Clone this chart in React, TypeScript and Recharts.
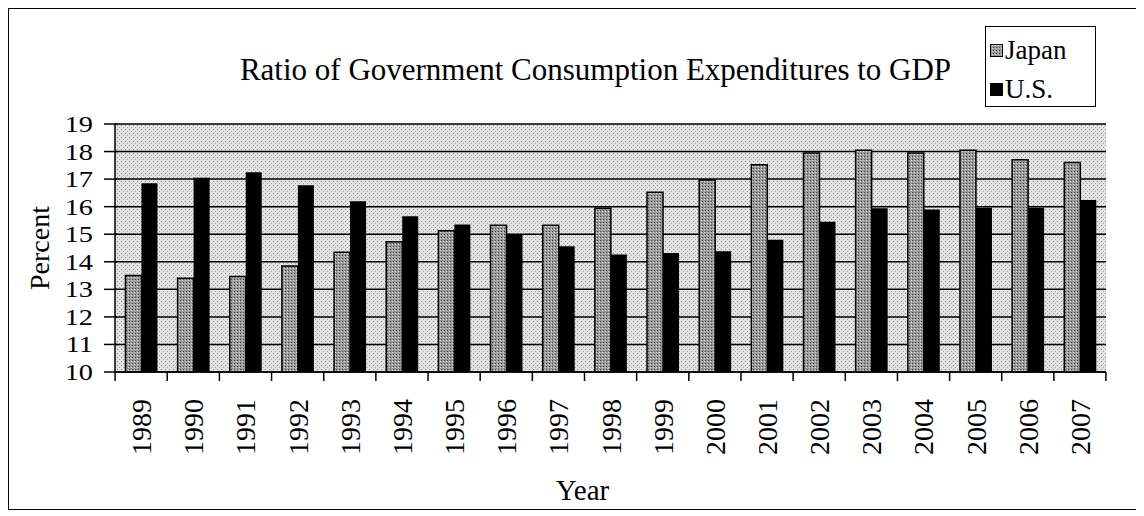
import React from "react";
import { BarChart, Bar, CartesianGrid, XAxis, YAxis } from "recharts";

const years = [
  "1989", "1990", "1991", "1992", "1993", "1994", "1995", "1996", "1997", "1998",
  "1999", "2000", "2001", "2002", "2003", "2004", "2005", "2006", "2007",
];
const japan = [
  13.5, 13.4, 13.47, 13.85, 14.35, 14.73, 15.13, 15.33, 15.33, 15.94,
  16.52, 16.97, 17.52, 17.95, 18.05, 17.95, 18.05, 17.7, 17.6,
];
const us = [
  16.85, 17.05, 17.25, 16.78, 16.2, 15.65, 15.35, 14.98, 14.56, 14.26,
  14.32, 14.38, 14.8, 15.45, 15.94, 15.9, 15.96, 15.96, 16.24,
];
const yTicks = [10, 11, 12, 13, 14, 15, 16, 17, 18, 19];

const data = years.map((year, i) => ({ year, japan: japan[i], us: us[i] }));

const FONT = "'Liberation Serif', 'Times New Roman', serif";
const HALF_BAND = 26;

// year labels read bottom-to-top, with tick marks between the categories
const YearTick = (props: any) => {
  const { x, y, payload, index } = props;
  return (
    <g>
      <line x1={x - HALF_BAND} y1={y} x2={x - HALF_BAND} y2={y + 9} stroke="#000" strokeWidth={1.5} />
      {index === years.length - 1 && (
        <line x1={x + HALF_BAND} y1={y} x2={x + HALF_BAND} y2={y + 9} stroke="#000" strokeWidth={1.5} />
      )}
      <text
        x={0}
        y={0}
        transform={`translate(${x + 10},${y + 27}) rotate(-90)`}
        textAnchor="end"
        fontFamily={FONT}
        fontSize={28}
        fill="#000"
      >
        {payload.value}
      </text>
    </g>
  );
};

// excel style "cross" ticks on the value axis
const PercentTick = (props: any) => {
  const { x, y, payload } = props;
  return (
    <g>
      <line x1={x - 11} y1={y} x2={x + 2} y2={y} stroke="#000" strokeWidth={1.5} />
      <text
        x={x - 22}
        y={y}
        dy={8}
        textAnchor="end"
        fontFamily={FONT}
        fontSize={24}
        fill="#000"
        transform={`translate(${-(x - 22) * 0.18},0) scale(1.18,1)`}
      >
        {payload.value}
      </text>
    </g>
  );
};

const LegendBox = () => (
  <div
    style={{
      position: "absolute",
      left: 976,
      top: 17,
      width: 111,
      height: 81,
      boxSizing: "border-box",
      border: "1.5px solid #000",
      background: "#fff",
      padding: "4px 0 0 4px",
      fontSize: 27,
      lineHeight: "39px",
      color: "#000",
    }}
  >
    <div style={{ display: "flex", alignItems: "center" }}>
      <svg width={13} height={13} style={{ marginRight: 2 }}>
        <rect x={0.5} y={0.5} width={12} height={12} fill="url(#japanFill)" stroke="#000" />
      </svg>
      Japan
    </div>
    <div style={{ display: "flex", alignItems: "center" }}>
      <svg width={13} height={13} style={{ marginRight: 2 }}>
        <rect x={0} y={0} width={13} height={13} fill="#000" />
      </svg>
      U.S.
    </div>
  </div>
);

export default function App() {
  return (
    <div
      style={{
        position: "relative",
        width: 1132,
        height: 502,
        border: "1.5px solid #000",
        boxSizing: "border-box",
        background: "#fff",
        fontFamily: FONT,
      }}
    >
      <div
        style={{
          position: "absolute",
          left: 0,
          width: 1173,
          top: 43,
          textAlign: "center",
          fontSize: 31,
          color: "#000",
          whiteSpace: "nowrap",
        }}
      >
        Ratio of Government Consumption Expenditures to GDP
      </div>
      <BarChart
        width={1129}
        height={499}
        data={data}
        margin={{ top: 115, right: 32, left: 6, bottom: 4 }}
        barCategoryGap="20%"
        barGap={0}
      >
        <defs>
          <pattern id="bgFill" width={4} height={4} patternUnits="userSpaceOnUse">
            <rect width={4} height={4} fill="#e2e2e2" />
            <rect x={0} y={0} width={1} height={1} fill="#8a8a8a" />
            <rect x={2} y={2} width={1} height={1} fill="#a8a8a8" />
          </pattern>
          <pattern id="japanFill" width={3} height={3} patternUnits="userSpaceOnUse">
            <rect width={3} height={3} fill="#9a9a9a" />
            <rect x={0} y={0} width={1} height={1} fill="#444" />
            <rect x={2} y={1} width={1} height={1} fill="#ddd" />
          </pattern>
        </defs>
        <CartesianGrid
          vertical={false}
          stroke="#000"
          strokeWidth={1.5}
          fill="url(#bgFill)"
          fillOpacity={1}
        />
        <XAxis
          dataKey="year"
          tick={<YearTick />}
          tickLine={false}
          tickSize={0}
          tickMargin={0}
          interval={0}
          height={132}
          axisLine={{ stroke: "#000", strokeWidth: 1.5 }}
          label={{
            value: "Year",
            position: "insideBottom",
            offset: 4,
            dx: -28,
            fill: "#000",
            fontSize: 29,
            fontFamily: FONT,
          }}
        />
        <YAxis
          domain={[10, 19]}
          ticks={yTicks}
          interval={0}
          width={100}
          axisLine={{ stroke: "#000", strokeWidth: 1.5 }}
          tickLine={false}
          tickSize={0}
          tickMargin={0}
          tick={<PercentTick />}
          label={{
            value: "Percent",
            angle: -90,
            position: "insideLeft",
            offset: 24,
            fill: "#000",
            fontSize: 28,
            fontFamily: FONT,
            style: { textAnchor: "middle" },
          }}
        />
        <YAxis
          yAxisId="frame"
          orientation="right"
          domain={[10, 19]}
          width={0}
          tick={false}
          tickLine={false}
          axisLine={{ stroke: "#000", strokeWidth: 1.5 }}
        />
        <Bar
          dataKey="japan"
          name="Japan"
          fill="url(#japanFill)"
          stroke="#000"
          strokeWidth={1.5}
          isAnimationActive={false}
        />
        <Bar dataKey="us" name="U.S." fill="#000" isAnimationActive={false} />
      </BarChart>
      <LegendBox />
    </div>
  );
}
